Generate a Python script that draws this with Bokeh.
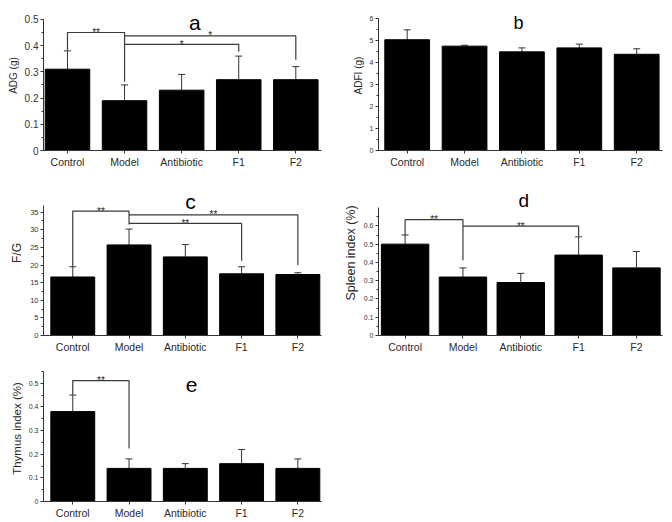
from bokeh.plotting import figure
from bokeh.models import (ColumnDataSource, Range1d, FixedTicker, SingleIntervalTicker,
                          Whisker, TeeHead, Label)
from bokeh.layouts import column, row
from bokeh.core.properties import value
from bokeh.embed import file_html
from bokeh.resources import INLINE

categories = ["Control", "Model", "Antibiotic", "F1", "F2"]

adg_mean = [0.31, 0.19, 0.23, 0.27, 0.27]
adg_err = [0.07, 0.06, 0.06, 0.09, 0.05]

adfi_mean = [5.03, 4.74, 4.48, 4.66, 4.37]
adfi_err = [0.45, 0.04, 0.18, 0.17, 0.25]

fg_mean = [16.6, 25.7, 22.3, 17.5, 17.3]
fg_err = [2.9, 4.5, 3.5, 2.0, 0.5]

spleen_mean = [0.50, 0.32, 0.29, 0.44, 0.37]
spleen_err = [0.05, 0.05, 0.05, 0.10, 0.09]

thymus_mean = [0.38, 0.14, 0.14, 0.16, 0.14]
thymus_err = [0.07, 0.04, 0.02, 0.06, 0.04]

# significance brackets: (group1, group2, bracket height, leg1 end, leg2 end, label)
adg_sig = [("Control", "Model", 0.450, 0.383, 0.262, "**"),
           ("Model", "F2", 0.437, 0.437, 0.346, "*"),
           ("Model", "F1", 0.405, 0.405, 0.377, "*")]
fg_sig = [("Control", "Model", 35.3, 19.6, 31.5, "**"),
          ("Model", "F2", 34.2, 34.2, 20.0, "**"),
          ("Model", "F1", 31.8, 31.8, 21.2, "**")]
spleen_sig = [("Control", "Model", 0.634, 0.550, 0.412, "**"),
              ("Model", "F1", 0.599, 0.599, 0.545, "**")]
thymus_sig = [("Control", "Model", 0.511, 0.451, 0.224, "**")]

FONT = "Liberation Sans"
DARK = "#2a2a2a"


def panel(mean, err, sig, letter, ylabel, ymax, interval, xrange, bar_w,
          w, h, bl, br, top_px, core_h, tick_fs, ylabel_fs,
          title_x, title_base_px, title_fs):
    bb = h - top_px - core_h
    frame_h = h - bb
    per_px = ymax / core_h
    y_end = ymax + top_px * per_px
    p = figure(width=w, height=h, x_range=Range1d(*xrange), y_range=Range1d(0, y_end),
               output_backend="svg", toolbar_location=None, title=None,
               min_border_left=bl, min_border_right=br, min_border_top=0,
               min_border_bottom=bb)
    p.outline_line_color = None
    p.xgrid.grid_line_color = None
    p.ygrid.grid_line_color = None

    xs = list(range(len(categories)))
    hi = [m + e for m, e in zip(mean, err)]
    src = ColumnDataSource(dict(x=xs, v=mean, hi=hi))
    p.vbar(x="x", top="v", width=bar_w, source=src, fill_color="black",
           line_color="black")
    wh = Whisker(base="x", lower="v", upper="hi", source=src, line_color="#333333",
                 line_width=1, lower_head=None,
                 upper_head=TeeHead(size=7, line_color="#333333", line_width=1))
    p.add_layout(wh)

    if sig:
        bx, by, tx, ty, tl = [], [], [], [], []
        for g1, g2, yb, e1, e2, lab in sig:
            i1 = categories.index(g1)
            i2 = categories.index(g2)
            bx.append([i1, i1, i2, i2])
            by.append([e1, yb, yb, e2])
            tx.append((i1 + i2) / 2)
            ty.append(yb)
            tl.append(lab)
        p.multi_line(xs=bx, ys=by, line_color="#3a3a3a", line_width=1.2)
        p.text(x=tx, y=ty, text=tl, text_align="center", text_baseline="alphabetic",
               text_font=value(FONT), text_font_size="10px", text_color="#222222")

    ax = p.xaxis[0]
    ax.ticker = FixedTicker(ticks=xs)
    ax.major_label_overrides = {i: c for i, c in enumerate(categories)}
    ax.major_label_text_font = FONT
    ax.major_label_text_font_size = "10.5px"
    ax.major_label_text_color = DARK
    ax.major_label_standoff = 2
    ax.major_tick_out = 3
    ax.major_tick_in = 0
    ax.axis_line_color = "#333333"
    ax.major_tick_line_color = "#333333"

    ay = p.yaxis[0]
    ay.bounds = (0, ymax)
    ay.ticker = SingleIntervalTicker(interval=interval, num_minor_ticks=2)
    ay.axis_label = ylabel
    ay.axis_label_text_font = FONT
    ay.axis_label_text_font_style = "normal"
    ay.axis_label_text_font_size = ylabel_fs
    ay.axis_label_text_color = DARK
    ay.axis_label_standoff = 3
    ay.major_label_text_font = FONT
    ay.major_label_text_font_size = tick_fs
    ay.major_label_text_color = "#333333"
    ay.major_label_standoff = 2
    ay.major_tick_out = 3
    ay.major_tick_in = 0
    ay.minor_tick_out = 2
    ay.minor_tick_in = 0
    ay.axis_line_color = "#333333"
    ay.major_tick_line_color = "#333333"
    ay.minor_tick_line_color = "#333333"

    title_y = y_end - title_base_px * per_px
    p.add_layout(Label(x=title_x, y=title_y, text=letter, text_align="center",
                       text_baseline="alphabetic", text_font=FONT,
                       text_font_size=title_fs, text_color="black"))
    return p


XA = (-0.42, 4.45)
XB = (-0.5, 4.45)
XC = (-0.52, 4.42)
XD = (-0.46, 4.45)
XE = (-0.52, 4.42)

pa = panel(adg_mean, adg_err, adg_sig, "a", "ADG (g)", 0.5, 0.1, XA, 0.78,
           330, 170, 43, 9, 19, 132, "10px", "10px", 2.23, 22, "21px")
pb = panel(adfi_mean, adfi_err, [], "b", "ADFI (g)", 6, 1, XB, 0.78,
           342, 170, 48, 9, 18, 133, "7px", "10px", 1.94, 23, "18px")
pc = panel(fg_mean, fg_err, fg_sig, "c", "F/G", 37, 5, XC, 0.78,
           330, 185, 38, 9, 35, 132, "7.5px", "12px", 2.09, 31, "21px")
pd = panel(spleen_mean, spleen_err, spleen_sig, "d", "Spleen index (%)", 0.7, 0.1, XD, 0.82,
           342, 185, 48, 10, 38, 131, "7px", "12.5px", 2.05, 31, "19px")
pe = panel(thymus_mean, thymus_err, thymus_sig, "e", "Thymus index (%)", 0.55, 0.1, XE, 0.78,
           330, 166, 38, 9, 16, 131, "7px", "11.5px", 2.11, 30, "21px")

layout = row(column(pa, pc, pe), column(pb, pd))
open("out.html", "w").write(file_html(layout, INLINE))
